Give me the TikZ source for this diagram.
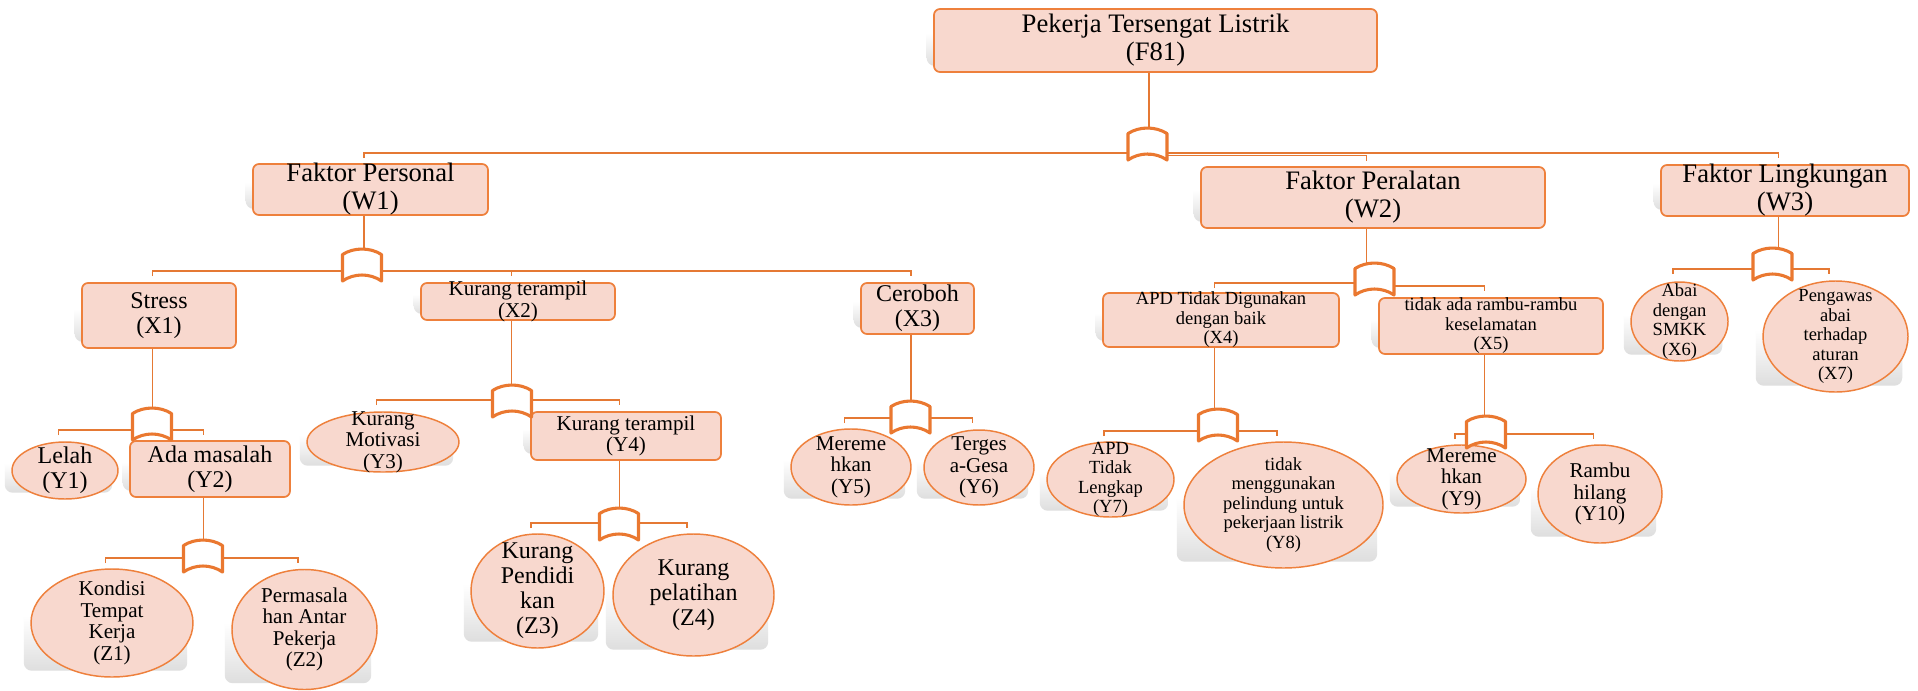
\documentclass[tikz,border=0pt]{standalone}
\usepackage{fontspec}
\setmainfont{Liberation Serif}
\usetikzlibrary{shapes.geometric}

\definecolor{fillC}{RGB}{248,216,206}
\definecolor{edgeC}{RGB}{238,128,60}
\definecolor{lineC}{RGB}{229,121,52}
\definecolor{gateC}{RGB}{234,120,48}

\pgfdeclarelayer{paperlayer}
\pgfdeclarelayer{shadowlayer}
\pgfdeclarelayer{linklayer}
\pgfdeclarelayer{gatelayer}
\pgfsetlayers{paperlayer,shadowlayer,main,linklayer,gatelayer}

\tikzset{
  dims/.style 2 args={minimum width=#1*0.75pt, minimum height=#2*0.75pt},
  boxnode/.style={rectangle, draw=edgeC, fill=fillC, line width=1.3pt,
    rounded corners=4.5pt, inner sep=0pt},
  ovalnode/.style={ellipse, draw=edgeC, fill=fillC, line width=1.1pt, inner sep=0pt},
  lbl/.style={align=center, inner sep=0pt, text=black},
  fA/.style={font=\fontsize{20pt}{21pt}\selectfont},
  fB/.style={font=\fontsize{18pt}{18.8pt}\selectfont},
  fC/.style={font=\fontsize{15.8pt}{16.2pt}\selectfont},
  fD/.style={font=\fontsize{13.9pt}{14.6pt}\selectfont},
  conn/.style={draw=lineC, line width=1.4pt},
  gatenode/.style={rectangle, inner sep=0pt, outer sep=0pt, dims={39}{32}},
  gatesym/.style={draw=gateC, fill=white, line width=2.3pt, line join=round},
  shadowfill/.style={top color=white, bottom color=black!13, middle color=white,
    rounded corners=6pt},
  stemshift/.style={xshift=-4.875pt},
}

% soft grey drop shadow behind a node, offset up and to the left
\newcommand\castshadow[1]{%
  \coordinate (#1-ul) at (#1.north -| #1.west);
  \coordinate (#1-lr) at (#1.south -| #1.east);
  \begin{pgfonlayer}{shadowlayer}
    \shade[shadowfill] ([shift={(-6.5,-7)}]#1-ul) rectangle ([shift={(-6.5,-7)}]#1-lr);
  \end{pgfonlayer}}

% shape, name, centre x, centre y, width, height, font, text
\newcommand\placeitem[8]{%
  \node[#1, dims={#5}{#6}] (#2) at (#3,#4) {};
  \node[lbl, #7] (#2-t) at (#2) {#8};
  \castshadow{#2}%
  \coordinate (#2s) at ([stemshift]#2.center);}

% gate symbol: name, centre x, top y
\newcommand\gatemark[3]{%
  \node[gatenode] (#1) at (#2,#3+16) {};
  \begin{pgfonlayer}{gatelayer}
    \filldraw[gatesym] (#2-19.5,#3+5.5)
      .. controls (#2-8,#3-1.8) and (#2+8,#3-1.8) .. (#2+19.5,#3+5.5)
      -- (#2+19.5,#3+32)
      .. controls (#2+8,#3+24) and (#2-8,#3+24) .. (#2-19.5,#3+32) -- cycle;
  \end{pgfonlayer}}

\begin{document}
\begin{tikzpicture}[x=0.75pt, y=-0.75pt]
\begin{pgfonlayer}{paperlayer}
  \fill[white] (0,0) rectangle (1918,690);
\end{pgfonlayer}
\useasboundingbox (0,0) rectangle (1918,690);

% ---- boxes and ovals
\placeitem{boxnode}{f81}{1155.5}{40.5}{443}{63}{fA}{Pekerja Tersengat Listrik\\(F81)}
\placeitem{boxnode}{w1}{370.5}{189.5}{235}{51}{fA}{Faktor Personal\\(W1)}
\placeitem{boxnode}{w2}{1373}{197.5}{344}{61}{fA}{Faktor Peralatan\\(W2)}
\placeitem{boxnode}{w3}{1785}{190.5}{248}{51}{fA}{Faktor Lingkungan\\(W3)}
\placeitem{boxnode}{x1}{159}{315.5}{154}{65}{fB}{Stress\\(X1)}
\placeitem{boxnode}{x2}{518}{301.5}{194}{37}{fC}{Kurang terampil\\(X2)}
\placeitem{boxnode}{x3}{917.5}{308.5}{113}{51}{fB}{Ceroboh\\(X3)}
\placeitem{ovalnode}{y1}{65}{470.5}{106}{57}{fB}{Lelah\\(Y1)}
\placeitem{boxnode}{y2}{210}{469}{160}{56}{fB}{Ada masalah\\(Y2)}
\placeitem{ovalnode}{z1}{112}{623}{162}{108}{fC}{Kondisi\\Tempat\\Kerja\\(Z1)}
\placeitem{ovalnode}{z2}{304.5}{629.5}{145}{120}{fC}{Permasala\\han Antar\\Pekerja\\(Z2)}
\placeitem{ovalnode}{y3}{383}{442}{152}{60}{fC}{Kurang\\Motivasi\\(Y3)}
\placeitem{boxnode}{y4}{626}{436}{190}{48}{fC}{Kurang terampil\\(Y4)}
\placeitem{ovalnode}{z3}{537.5}{591}{133}{114}{fB}{Kurang\\Pendidi\\kan\\(Z3)}
\placeitem{ovalnode}{z4}{693.5}{595}{161}{122}{fB}{Kurang\\pelatihan\\(Z4)}
\placeitem{ovalnode}{y5}{851}{467}{120}{76}{fC}{Mereme\\hkan\\(Y5)}
\placeitem{ovalnode}{y6}{979}{467.5}{110}{75}{fC}{Terges\\a-Gesa\\(Y6)}
\placeitem{boxnode}{x4}{1221}{320}{236}{54}{fD}{APD Tidak Digunakan\\dengan baik\\(X4)}
\placeitem{boxnode}{x5}{1491}{326}{224}{56}{fD}{tidak ada rambu-rambu\\keselamatan\\(X5)}
\placeitem{ovalnode}{y7}{1110.5}{479.5}{127}{75}{fD}{APD\\Tidak\\Lengkap\\(Y7)}
\placeitem{ovalnode}{y8}{1283.5}{505}{199}{126}{fD}{tidak\\menggunakan\\pelindung untuk\\pekerjaan listrik\\(Y8)}
\placeitem{ovalnode}{y9}{1461.5}{479}{129}{68}{fC}{Mereme\\hkan\\(Y9)}
\placeitem{ovalnode}{y10}{1600}{494}{124}{98}{fC}{Rambu\\hilang\\(Y10)}
\placeitem{ovalnode}{x6}{1679.5}{321.5}{97}{79}{fD}{Abai\\dengan\\SMKK\\(X6)}
\placeitem{ovalnode}{x7}{1835.5}{336.5}{145}{111}{fD}{Pengawas\\abai\\terhadap\\aturan\\(X7)}

% ---- gates
\gatemark{g1}{1147.5}{128}
\gatemark{g2}{362}{249}
\gatemark{g3}{152}{408}
\gatemark{g4}{203}{540}
\gatemark{g5}{512}{385}
\gatemark{g6}{619}{508}
\gatemark{g7}{910.5}{401}
\gatemark{g8}{1374.5}{263}
\gatemark{g9}{1218}{409}
\gatemark{g10}{1486}{416}
\gatemark{g11}{1772.5}{248}

% ---- levels of the branch lines
\coordinate (h1) at (0,153);
\coordinate (h1b) at (0,155.5);
\coordinate (h2) at (0,271);
\coordinate (h3) at (0,430);
\coordinate (h4) at (0,558);
\coordinate (h5) at (0,400);
\coordinate (h6) at (0,523);
\coordinate (h7) at (0,418);
\coordinate (h8a) at (0,283);
\coordinate (h8b) at (0,286);
\coordinate (h9) at (0,431);
\coordinate (h10) at (0,434);
\coordinate (h11) at (0,269);

% ---- connectors
\begin{pgfonlayer}{linklayer}
  \draw[conn] (f81s |- f81.south) -- (f81s |- g1.north);
  \draw[conn] (w1s |- h1) ++(0,5) -- (w1s |- h1) -- (w3s |- h1) -- ++(0,5);
  \draw[conn] (g1 |- h1b) -- (w2s |- h1b) -- ++(0,5);

  \draw[conn] (w1s |- w1.south) -- (w1s |- g2.north);
  \draw[conn] (x1s |- h2) ++(0,5) -- (x1s |- h2) -- (x3s |- h2) -- ++(0,5);
  \draw[conn] (x2s |- h2) -- ++(0,5);

  \draw[conn] (x1s |- x1.south) -- (x1s |- g3.north);
  \draw[conn] (y1s |- h3) ++(0,5) -- (y1s |- h3) -- (y2s |- h3) -- ++(0,5);

  \draw[conn] (y2s |- y2.south) -- (y2s |- g4.north);
  \draw[conn] (z1s |- h4) ++(0,5) -- (z1s |- h4) -- (z2s |- h4) -- ++(0,5);

  \draw[conn] (x2s |- x2.south) -- (x2s |- g5.north);
  \draw[conn] (y3s |- h5) ++(0,5) -- (y3s |- h5) -- (y4s |- h5) -- ++(0,5);

  \draw[conn] (y4s |- y4.south) -- (y4s |- g6.north);
  \draw[conn] (z3s |- h6) ++(0,5) -- (z3s |- h6) -- (z4s |- h6) -- ++(0,5);

  \draw[conn] (x3s |- x3.south) -- (x3s |- g7.north);
  \draw[conn] (y5s |- h7) ++(0,5) -- (y5s |- h7) -- (y6s |- h7) -- ++(0,5);

  \draw[conn] (w2s |- w2.south) -- (w2s |- g8.north);
  \draw[conn] (x4s |- h8a) ++(0,5) -- (x4s |- h8a) -- (g8 |- h8a);
  \draw[conn] (g8 |- h8b) -- (x5s |- h8b) -- ++(0,5);

  \draw[conn] (x4s |- x4.south) -- (x4s |- g9.north);
  \draw[conn] (y7s |- h9) ++(0,5) -- (y7s |- h9) -- (y8s |- h9) -- ++(0,5);

  \draw[conn] (x5s |- x5.south) -- (x5s |- g10.north);
  \draw[conn] (y9s |- h10) ++(0,5) -- (y9s |- h10) -- (y10s |- h10) -- ++(0,5);

  \draw[conn] (w3s |- w3.south) -- (w3s |- g11.north);
  \draw[conn] (x6s |- h11) ++(0,5) -- (x6s |- h11) -- (x7s |- h11) -- ++(0,5);
\end{pgfonlayer}
\end{tikzpicture}
\end{document}
